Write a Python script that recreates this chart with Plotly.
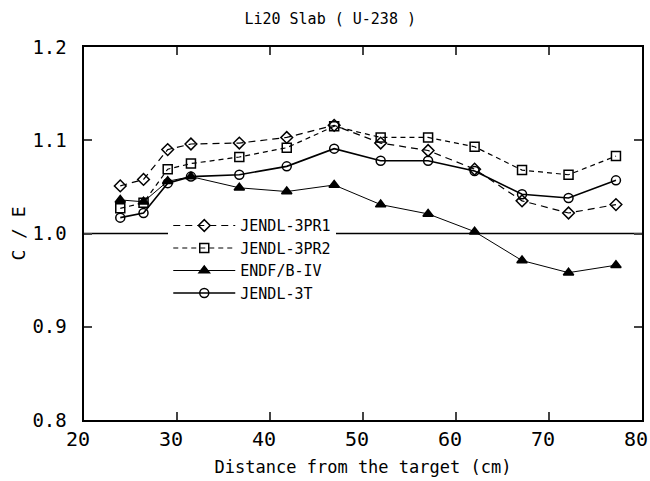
import plotly.graph_objects as go

distance = [23.9, 26.4, 29.0, 31.5, 36.7, 41.8, 46.9, 51.9, 57.0, 62.0, 67.1, 72.1, 77.2]
jendl_3pr1 = [1.051, 1.058, 1.090, 1.096, 1.097, 1.103, 1.116, 1.097, 1.089, 1.069, 1.035, 1.022, 1.031]
jendl_3pr2 = [1.027, 1.033, 1.069, 1.075, 1.082, 1.092, 1.115, 1.103, 1.103, 1.093, 1.068, 1.063, 1.083]
endf_b4 = [1.036, 1.034, 1.056, 1.061, 1.049, 1.045, 1.052, 1.031, 1.021, 1.002, 0.971, 0.958, 0.966]
jendl_3t = [1.017, 1.022, 1.054, 1.061, 1.063, 1.072, 1.091, 1.078, 1.078, 1.067, 1.042, 1.038, 1.057]

x_ticks = [20, 30, 40, 50, 60, 70, 80]
x_labels = ["20", "30", "40", "50", "60", "70", "80"]
y_ticks = [0.8, 0.9, 1.0, 1.1, 1.2]
y_labels = ["0.8", "0.9", "1.0", "1.1", "1.2"]

mono = "DejaVu Sans Mono"
pad = "\u00a0"

fig = go.Figure()

series = [
    ("JENDL-3PR1", jendl_3pr1, "diamond-open", "7px,5px", 1.2),
    ("JENDL-3PR2", jendl_3pr2, "square-open", "5px,4px", 1.2),
    ("ENDF/B-IV", endf_b4, "triangle-up", "solid", 1.0),
    ("JENDL-3T", jendl_3t, "circle-open", "solid", 1.6),
]
for name, vals, sym, dash, lw in series:
    fig.add_trace(go.Scatter(
        x=distance, y=vals, name=name, mode="lines+markers",
        line=dict(color="black", width=lw, dash=dash),
        marker=dict(symbol=sym, size=9, color="black", line=dict(color="black", width=1.5)),
    ))

fig.add_hline(y=1.0, line=dict(color="black", width=1.5), layer="below")

fig.update_layout(
    width=650, height=481,
    margin=dict(l=84, r=8, t=47, b=61),
    paper_bgcolor="white", plot_bgcolor="white",
    title=dict(text="Li20 Slab ( U-238 )", x=0.508, xanchor="center", y=0.962, yanchor="middle",
               font=dict(family=mono, size=15, color="black")),
    showlegend=True,
    legend=dict(x=0.151, y=0.565, xanchor="left", yanchor="top",
                bgcolor="white", borderwidth=0, itemwidth=62,
                font=dict(family=mono, size=15, color="black"),
                tracegroupgap=0),
    font=dict(family=mono, color="black"),
)
fig.update_xaxes(
    range=[20, 80], tickvals=x_ticks, ticktext=x_labels, ticklabelshift=-6,
    ticks="inside", ticklen=8, tickwidth=1.5, ticklabeloverflow="allow",
    showline=True, linewidth=2, linecolor="black", mirror="ticks", showgrid=False, zeroline=False,
    automargin=False,
    tickfont=dict(family=mono, size=20, color="black"),
    title=dict(text="Distance from the target (cm)", standoff=11,
               font=dict(family=mono, size=17, color="black")),
)
fig.update_yaxes(
    range=[0.8, 1.2], tickvals=y_ticks, ticktext=[t + pad for t in y_labels],
    ticks="inside", ticklen=8, tickwidth=1.5,
    showline=True, linewidth=2, linecolor="black", mirror="ticks", showgrid=False, zeroline=False,
    automargin=False,
    tickfont=dict(family=mono, size=19, color="black"),
    title=dict(text="C / E", standoff=2, font=dict(family=mono, size=18, color="black")),
)

fig.write_html("out.html", config={"displayModeBar": False},
               post_script="document.body.style.margin='0';")
